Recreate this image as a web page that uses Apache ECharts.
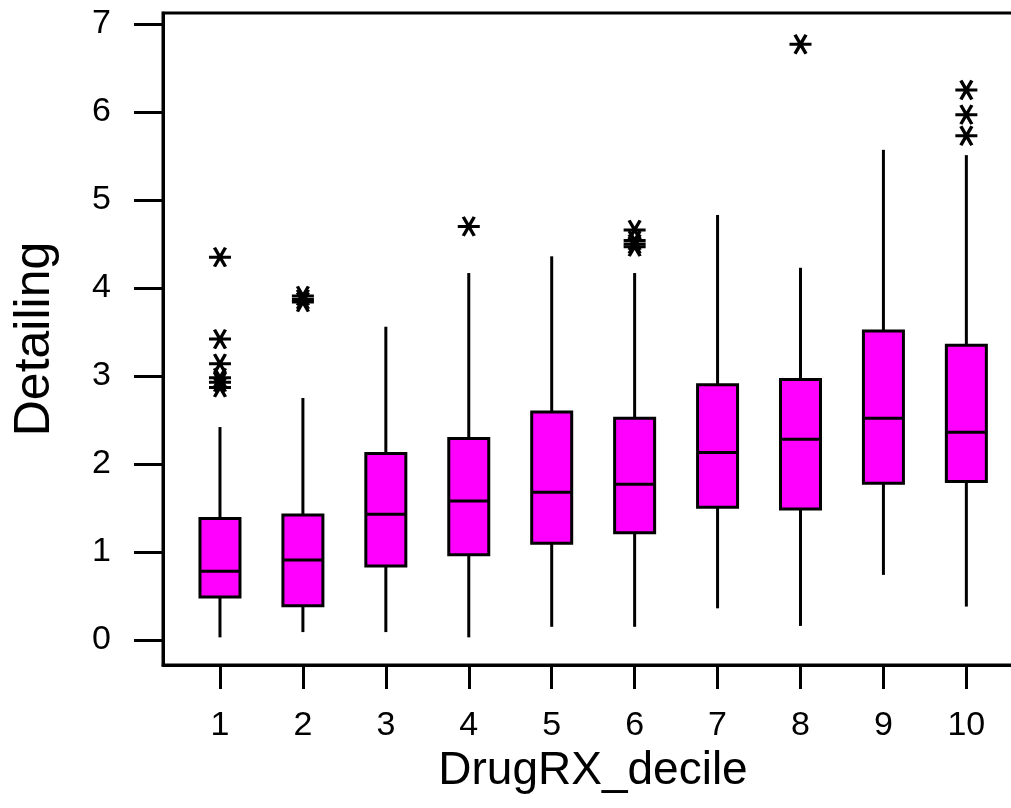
<!DOCTYPE html>
<html>
<head>
<meta charset="utf-8">
<script src="https://cdn.jsdelivr.net/npm/echarts@6/dist/echarts.min.js"></script>
<style>
html,body{margin:0;padding:0;background:#fff;}
#chart{width:1011px;height:808px;}
</style>
</head>
<body>
<div id="chart"></div>
<script>
// ---- data ----
const categories = [1, 2, 3, 4, 5, 6, 7, 8, 9, 10];
const whiskerLow  = [0.03, 0.09, 0.09, 0.03, 0.15, 0.15, 0.36, 0.16, 0.74, 0.38];
const q1          = [0.49, 0.39, 0.84, 0.97, 1.10, 1.22, 1.51, 1.49, 1.78, 1.80];
const median      = [0.78, 0.91, 1.43, 1.58, 1.68, 1.77, 2.13, 2.28, 2.52, 2.36];
const q3          = [1.38, 1.42, 2.12, 2.29, 2.59, 2.52, 2.90, 2.96, 3.51, 3.35];
const whiskerHigh = [2.42, 2.75, 3.56, 4.17, 4.36, 4.17, 4.83, 4.23, 5.57, 5.51];
const outlierX = [1, 1, 1, 1, 1, 1, 2, 2, 2, 4, 6, 6, 6, 6, 8, 10, 10, 10];
const outlierY = [4.35, 3.42, 3.14, 2.98, 2.93, 2.87, 3.91, 3.87, 3.84, 4.70, 4.66, 4.54, 4.50, 4.47, 6.77, 6.25, 5.97, 5.73];
const yTicks = [0, 1, 2, 3, 4, 5, 6, 7];
const xName = 'DrugRX_decile';
const yName = 'Detailing';

// ---- chart ----
const FONT = 'Liberation Sans, Arial, Helvetica, sans-serif';
const boxData = categories.map((c, i) => [c, q1[i], q1[i], median[i], q3[i], q3[i]]);
const whiskerData = categories.map((c, i) => [c, whiskerLow[i], q1[i], q3[i], whiskerHigh[i]]);
const outlierData = outlierX.map((x, i) => [x, outlierY[i]]);

const chart = echarts.init(document.getElementById('chart'), null, {renderer: 'canvas'});
chart.setOption({
  animation: false,
  backgroundColor: '#fff',
  grid: {
    left: 163, top: 13, width: 860, bottom: 143,
    outerBoundsMode: 'none', containLabel: false,
    show: true, borderColor: '#000', borderWidth: 3, backgroundColor: 'transparent'
  },
  xAxis: {
    type: 'value',
    min: 0.313, max: 10.683,
    name: xName, nameLocation: 'middle', nameGap: 70,
    nameTextStyle: {fontFamily: FONT, fontSize: 46, color: '#000'},
    axisLine: {show: true, onZero: false, lineStyle: {color: '#000', width: 3}},
    axisTick: {show: true, customValues: categories, length: 24, lineStyle: {color: '#000', width: 3}},
    axisLabel: {customValues: categories, fontFamily: FONT, fontSize: 34, color: '#000', margin: 44},
    splitLine: {show: false}
  },
  yAxis: {
    type: 'value',
    min: -0.284, max: 7.125,
    name: yName, nameLocation: 'middle', nameGap: 103,
    nameTextStyle: {fontFamily: FONT, fontSize: 50, color: '#000', padding: [0, 0, 0, 0]},
    axisLine: {show: true, onZero: false, lineStyle: {color: '#000', width: 3}},
    axisTick: {show: true, customValues: yTicks, length: 29, lineStyle: {color: '#000', width: 3}},
    axisLabel: {customValues: yTicks, fontFamily: FONT, fontSize: 34, color: '#000', margin: 52},
    splitLine: {show: false}
  },
  series: [
    {
      type: 'custom',
      z: 2,
      renderItem: function (params, api) {
        const x = api.value(0);
        const lo = api.coord([x, api.value(1)]);
        const b = api.coord([x, api.value(2)]);
        const t = api.coord([x, api.value(3)]);
        const hi = api.coord([x, api.value(4)]);
        const st = {stroke: '#000', lineWidth: 3};
        return {type: 'group', children: [
          {type: 'line', shape: {x1: lo[0], y1: lo[1], x2: b[0], y2: b[1]}, style: st},
          {type: 'line', shape: {x1: t[0], y1: t[1], x2: hi[0], y2: hi[1]}, style: st}
        ]};
      },
      encode: {x: 0, y: [1, 2, 3, 4]},
      data: whiskerData
    },
    {
      type: 'boxplot',
      z: 3,
      boxWidth: [40, 40],
      itemStyle: {color: '#FF00FF', borderColor: '#000', borderWidth: 3},
      data: boxData
    },
    {
      type: 'scatter',
      z: 4,
      symbol: 'path://M0,8.66L20,8.66M5,0L15,17.32M15,0L5,17.32',
      symbolSize: [22, 19],
      itemStyle: {color: '#000', borderColor: '#000', borderWidth: 3.2, opacity: 1},
      data: outlierData
    }
  ]
});
</script>
</body>
</html>
